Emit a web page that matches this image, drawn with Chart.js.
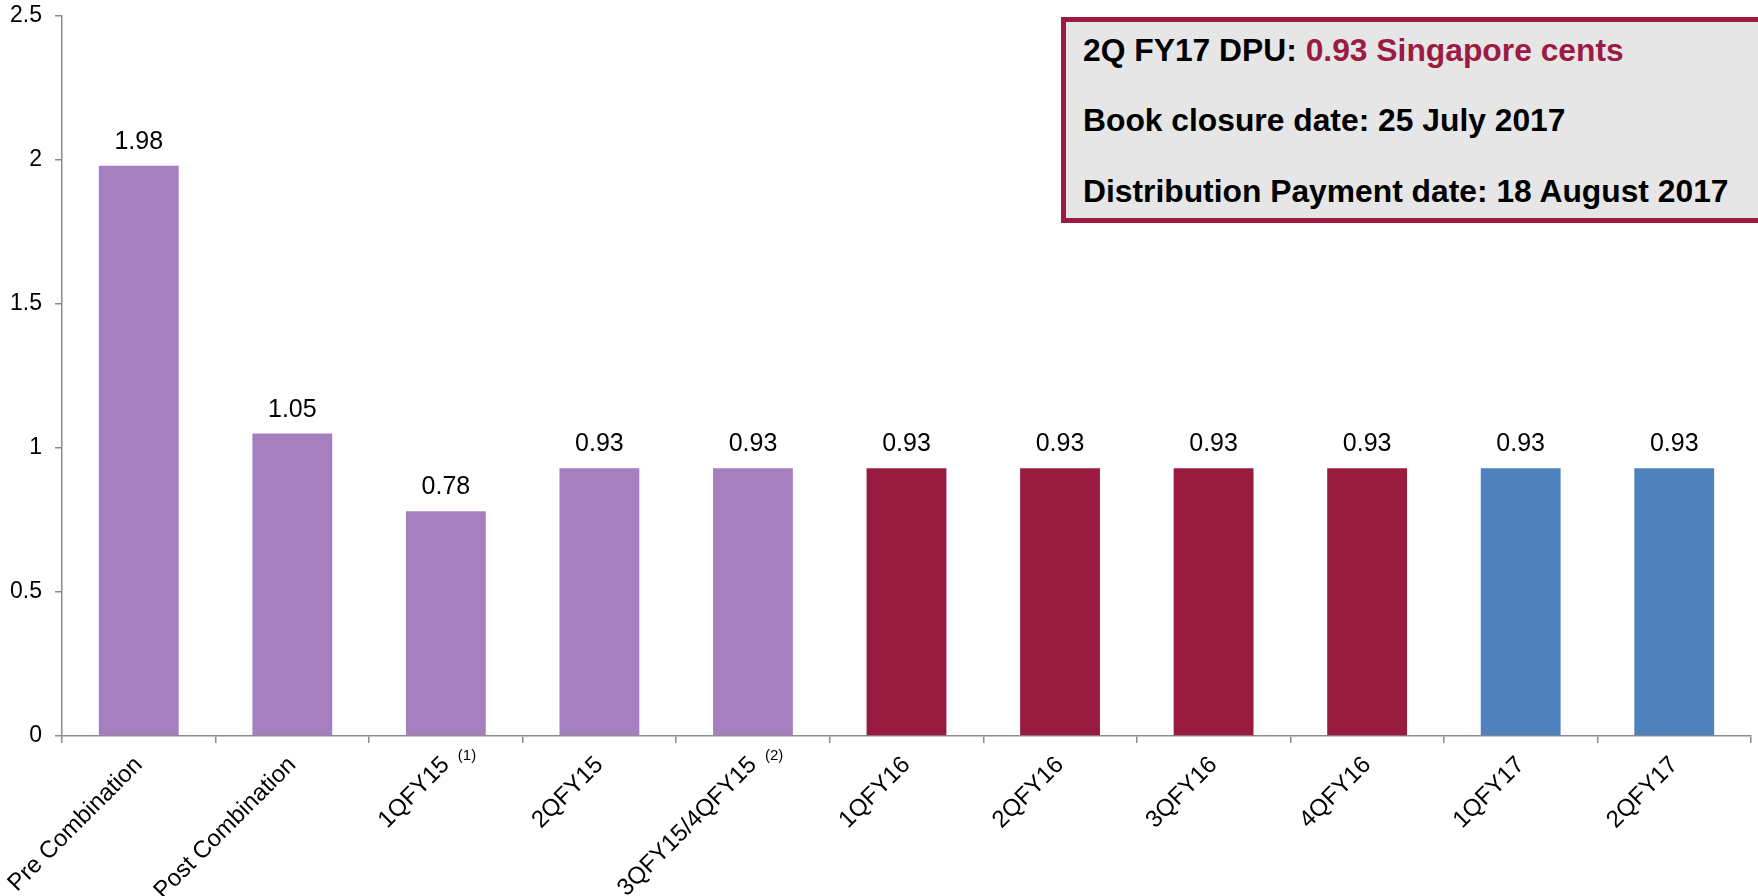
<!DOCTYPE html>
<html>
<head>
<meta charset="utf-8">
<script src="https://cdn.jsdelivr.net/npm/chart.js@4.4.0/dist/chart.umd.min.js"></script>
<style>
  html, body { margin: 0; padding: 0; background: #fff; overflow: hidden; }
  #wrap { position: relative; width: 1758px; height: 896px; }
  #dpuBox {
    position: absolute; left: 1061px; top: 17px; width: 760px; height: 196px;
    border: 5px solid #9b1b42; background: #e6e6e6;
    font-family: "Liberation Sans", Arial, sans-serif; font-weight: bold;
    font-size: 31.8px; line-height: 32px; color: #000;
  }
  #dpuBox div { position: absolute; left: 17px; white-space: nowrap; }
  #dpuBox .hl { color: #9b1b42; }
</style>
</head>
<body>
<div id="wrap">
  <canvas id="dpuChart" width="1758" height="896"></canvas>
  <div id="dpuBox">
    <div style="top:12px">2Q FY17 DPU: <span class="hl">0.93 Singapore cents</span></div>
    <div style="top:82px">Book closure date: 25 July 2017</div>
    <div style="top:153px">Distribution Payment date: 18 August 2017</div>
  </div>
</div>
<script>
const categories = ['Pre Combination', 'Post Combination', '1QFY15', '2QFY15', '3QFY15/4QFY15',
  '1QFY16', '2QFY16', '3QFY16', '4QFY16', '1QFY17', '2QFY17'];
const footnotes = ['', '', '(1)', '', '(2)', '', '', '', '', '', ''];
const dpuValues = [1.98, 1.05, 0.78, 0.93, 0.93, 0.93, 0.93, 0.93, 0.93, 0.93, 0.93];
const yMin = 0, yMax = 2.5, yStep = 0.5;

// colour per period: FY15 and earlier / FY16 / FY17
const purple = '#a67fbf', crimson = '#9a1b40', blue = '#4f81bd';
const barColors = categories.map((c, i) => i < 5 ? purple : (i < 9 ? crimson : blue));

const axisGray = '#8c8c8c';
Chart.defaults.font.family = '"Liberation Sans", Arial, sans-serif';
Chart.defaults.color = '#000';

// value labels above each bar
const valueLabels = {
  id: 'valueLabels',
  afterDatasetsDraw(chart) {
    const ctx = chart.ctx;
    const meta = chart.getDatasetMeta(0);
    ctx.save();
    ctx.font = '25px "Liberation Sans", Arial, sans-serif';
    ctx.fillStyle = '#000';
    ctx.textAlign = 'center';
    ctx.textBaseline = 'alphabetic';
    meta.data.forEach((bar, i) => {
      ctx.fillText(dpuValues[i].toFixed(2), bar.x, bar.y - 17);
    });
    ctx.restore();
  }
};

// small upright footnote marks next to some category labels
const footnoteLabels = {
  id: 'footnoteLabels',
  afterDraw(chart) {
    const ctx = chart.ctx;
    const xs = chart.scales.x;
    ctx.save();
    ctx.font = '15px "Liberation Sans", Arial, sans-serif';
    ctx.fillStyle = '#000';
    ctx.textAlign = 'left';
    ctx.textBaseline = 'top';
    footnotes.forEach((note, i) => {
      if (!note) return;
      ctx.fillText(note, xs.getPixelForTick(i) + 12, xs.top + 12);
    });
    ctx.restore();
  }
};

new Chart(document.getElementById('dpuChart').getContext('2d'), {
  type: 'bar',
  data: {
    labels: categories,
    datasets: [{
      data: dpuValues,
      backgroundColor: barColors,
      barPercentage: 0.52,
      categoryPercentage: 1
    }]
  },
  options: {
    responsive: false,
    animation: false,
    devicePixelRatio: 1,
    layout: { padding: { top: 16, right: 7, left: 0, bottom: 0 } },
    plugins: { legend: { display: false }, tooltip: { enabled: false } },
    scales: {
      x: {
        grid: { offset: true, drawOnChartArea: false, tickLength: 7, color: axisGray, lineWidth: 1.5 },
        border: { color: axisGray, width: 1.5 },
        ticks: { autoSkip: false, minRotation: 45, maxRotation: 45, padding: 8, font: { size: 24 }, color: '#000' },
        afterFit(scale) {
          scale.height = 160;
          scale.paddingLeft = 0;
          scale.paddingRight = 0;
        }
      },
      y: {
        min: yMin,
        max: yMax,
        grid: { drawOnChartArea: false, tickLength: 7, color: axisGray, lineWidth: 1.5 },
        border: { color: axisGray, width: 1.5 },
        ticks: {
          stepSize: yStep, padding: 13, font: { size: 23 }, color: '#000',
          callback: (v) => String(Number(v.toFixed(1)))
        },
        afterFit(scale) {
          scale.width = 62;
          scale.paddingTop = 0;
          scale.paddingBottom = 0;
        }
      }
    }
  },
  plugins: [valueLabels, footnoteLabels]
});
</script>
</body>
</html>
